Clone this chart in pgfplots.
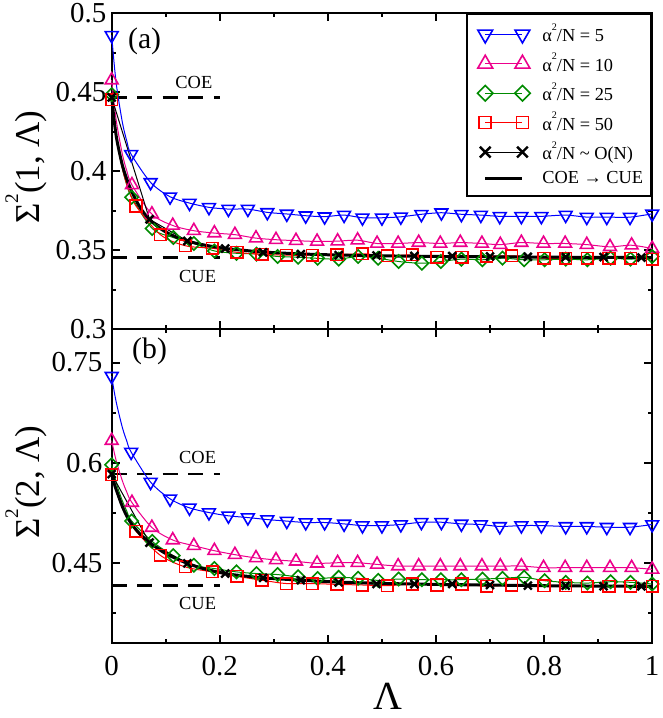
\documentclass[border=0pt]{standalone}
\usepackage{graphicx}
\usepackage{fontspec}
\setmainfont{Liberation Serif}
\usepackage{pgfplots}
\pgfplotsset{compat=1.18}

\definecolor{mygreen}{RGB}{0,139,0}
\newcommand{\sq}{\raisebox{0.62em}{\scalebox{0.55}{2}}}

\pgfplotsset{
  myaxis/.style={
    width=271pt, scale only axis,
    xmin=0, xmax=1,
    xtick={0,0.2,0.4,0.6,0.8,1},
    minor x tick num=1,
    tick align=inside, tick pos=both,
    major tick length=4pt, minor tick length=2pt,
    every tick/.style={black, line width=1pt},
    axis line style={line width=1pt},
    clip=false,
    tick label style={font=\fontsize{14.5}{16}\selectfont},
    /pgf/number format/assume math mode=true,
    xticklabel style={inner sep=0pt, yshift=-6.5pt},
    yticklabel style={inner sep=0pt},
    ylabel style={at={(axis description cs:0,0.5)}, anchor=base, yshift=36pt, xshift=2pt, inner sep=0pt, font=\fontsize{17.5}{20}\selectfont},
  },
  sblue/.style={blue, line width=0.5pt, mark=triangle, mark size=3.7pt, mark options={rotate=180, line width=0.8pt, solid}},
  smag/.style={magenta, line width=0.5pt, mark=triangle, mark size=3.7pt, mark options={line width=0.8pt, solid}},
  sgreen/.style={mygreen, line width=0.5pt, mark=square, mark size=2.35pt, mark options={rotate=45, line width=0.8pt, solid}},
  sred/.style={red, line width=0.5pt, mark=square, mark size=2.9pt, mark options={line width=0.8pt, solid}},
  sx/.style={black, line width=0.5pt, mark=x, mark size=2.8pt, mark options={line width=1.2pt, solid}},
  sline/.style={black, line width=1.5pt},
  sdash/.style={black, line width=1.3pt, dash pattern=on 7.5pt off 5.3pt},
}

\begin{document}
\begin{tikzpicture}
%================ panel (a) =================
\begin{axis}[myaxis, name=top, at={(0,0)}, anchor=north west, height=158.35pt,
  ymin=0.3, ymax=0.5,
  ytick={0.3,0.35,0.4,0.45,0.5}, yticklabels={0.3,0.35,0.4,0.45,0.5},
  minor y tick num=1,
  xticklabels={},
  yticklabel style={xshift=-2.5pt},
  ylabel={Σ\sq(1, Λ)},
  legend cell align=left,
  legend style={at={(1,1)}, anchor=north east, draw=black, line width=1pt, fill=white,
    inner xsep=0pt, inner ysep=4.8pt, row sep=4.2pt, column sep=0pt,
    font=\fontsize{9.2}{11}\selectfont, nodes={inner sep=0pt}},
  legend image code/.code={%
    \path (0pt,0pt) (36.2pt,0pt);
    \draw[#1] plot coordinates {(8.35pt,0pt) (27pt,0pt)};
  },
]
\addplot[sdash, forget plot] coordinates {(0,0.4467) (0.2,0.4467)};
\addplot[sdash, forget plot] coordinates {(0,0.3452) (0.2,0.3452)};

\addplot[sblue, smooth, forget plot, mark indices={1,6,7,8,9,10,11,12,13,14,15,16,17,18,19,20,21,22,23,24,25,26,27,28,29,30,31,32}] coordinates {
(0,0.486) (0.005,0.4665) (0.01,0.4515) (0.02,0.4305) (0.028,0.419)
(0.036,0.4107) (0.072,0.3929) (0.108,0.3838) (0.144,0.3798) (0.18,0.3771) (0.216,0.376) (0.252,0.376) (0.288,0.3739) (0.324,0.3729) (0.359,0.3718) (0.394,0.3712) (0.43,0.3722) (0.464,0.3705) (0.5,0.3705) (0.535,0.3711) (0.573,0.3727) (0.61,0.3737) (0.647,0.3727) (0.683,0.3722) (0.718,0.3714) (0.758,0.3714) (0.795,0.3714) (0.84,0.3722) (0.879,0.3709) (0.916,0.3709) (0.959,0.3709) (1,0.373)};

\addplot[smag, smooth, forget plot, mark indices={1,6,7,8,9,10,11,12,13,14,15,16,17,18,19,20,21,22,23,24,25,26,27,28,29,30,31}] coordinates {
(0,0.4577) (0.005,0.4414) (0.01,0.4287) (0.02,0.4104) (0.028,0.4002)
(0.0375,0.3913) (0.0744,0.3728) (0.113,0.3656) (0.152,0.3623) (0.19,0.3608) (0.228,0.3598) (0.267,0.3576) (0.304,0.3566) (0.341,0.356) (0.38,0.3555) (0.418,0.3557) (0.455,0.3563) (0.491,0.3542) (0.53,0.3542) (0.568,0.3548) (0.608,0.3542) (0.645,0.3548) (0.685,0.3542) (0.719,0.3535) (0.758,0.3548) (0.799,0.3542) (0.839,0.3542) (0.879,0.3535) (0.922,0.3521) (0.962,0.3531) (1,0.351)};

\addplot[sgreen, smooth, forget plot, mark indices={1,5,6,7,8,9,10,11,12,13,14,15,16,17,18,19,20,21,22,23,24,25,26,27,28,29,30}] coordinates {
(0,0.4485) (0.01,0.4197) (0.02,0.4014) (0.028,0.3912)
(0.037,0.3835) (0.075,0.3637) (0.114,0.358) (0.152,0.3542) (0.19,0.3495) (0.231,0.348) (0.268,0.3475) (0.307,0.346) (0.345,0.3455) (0.381,0.3448) (0.42,0.3443) (0.456,0.346) (0.493,0.3449) (0.531,0.3428) (0.574,0.3417) (0.609,0.3428) (0.647,0.3443) (0.686,0.3439) (0.723,0.3449) (0.763,0.3439) (0.801,0.3439) (0.84,0.3443) (0.88,0.3439) (0.923,0.3449) (0.96,0.3443) (1,0.346)};

\addplot[sred, smooth, forget plot, mark indices={1,5,6,7,8,9,10,11,12,13,14,15,16,17,18,19,20,21,22,23,24,25,26}] coordinates {
(0,0.4452) (0.01,0.4185) (0.02,0.4013) (0.03,0.3897)
(0.045,0.378) (0.09,0.3598) (0.136,0.3528) (0.186,0.3512) (0.232,0.3486) (0.278,0.3474) (0.323,0.3468) (0.371,0.3468) (0.417,0.347) (0.464,0.3477) (0.51,0.3464) (0.556,0.347) (0.602,0.3456) (0.648,0.3456) (0.694,0.346) (0.74,0.3464) (0.8,0.3449) (0.84,0.3449) (0.88,0.3449) (0.92,0.3449) (0.96,0.3449) (1,0.3443)};

\addplot[sx, forget plot] coordinates {
(0,0.4467) (0.07,0.3695) (0.14,0.3558) (0.21,0.351) (0.28,0.3486) (0.35,0.3475) (0.42,0.3468) (0.49,0.3466) (0.56,0.3463) (0.63,0.3462) (0.7,0.346) (0.77,0.3458) (0.84,0.3456) (0.91,0.3456) (0.98,0.3453)};

\addplot[sline, smooth, forget plot] coordinates {
(0,0.4467) (0.005,0.431) (0.01,0.419) (0.02,0.4035) (0.03,0.393) (0.04,0.385) (0.05,0.3785) (0.06,0.3734) (0.07,0.3695) (0.085,0.3649) (0.1,0.3615) (0.12,0.3582) (0.14,0.3558) (0.17,0.3533) (0.21,0.3511) (0.25,0.3497) (0.28,0.3488) (0.35,0.3476) (0.42,0.3469) (0.5,0.3464) (0.6,0.346) (0.7,0.3458) (0.8,0.3456) (0.9,0.3454) (1,0.3453)};

\node[font=\fontsize{9.25}{11}\selectfont, inner sep=0pt] at (axis cs:0.152,0.4563) {COE};
\node[font=\fontsize{9.25}{11}\selectfont, inner sep=0pt] at (axis cs:0.159,0.3332) {CUE};
\node[font=\fontsize{14.9}{17}\selectfont, inner sep=0pt, anchor=base] at (axis cs:0.0609,0.4779) {(a)};

\addlegendimage{sblue, mark size=4.3pt}
\addlegendentry{α\sq/N = 5}
\addlegendimage{smag, mark size=4.3pt}
\addlegendentry{α\sq/N = 10}
\addlegendimage{sgreen, mark size=2.75pt}
\addlegendentry{α\sq/N = 25}
\addlegendimage{sred, mark size=3pt}
\addlegendentry{α\sq/N = 50}
\addlegendimage{sx, mark size=3.8pt}
\addlegendentry{α\sq/N \textasciitilde\ O(N)}
\addlegendimage{sline}
\addlegendentry{COE → CUE\hspace*{4pt}}
\end{axis}

%================ panel (b) =================
\begin{axis}[myaxis, at={(top.south west)}, anchor=north west, height=157.5pt,
  ymin=0.33, ymax=0.8,
  ytick={0.45,0.6,0.75}, yticklabels={0.45,0.6,0.75},
  minor ytick={0.375,0.525,0.675},
  xticklabels={0,0.2,0.4,0.6,0.8,1},
  yticklabel style={xshift=-4.5pt},
  ylabel={Σ\sq(2, Λ)},
  xlabel={Λ},
  xlabel style={at={(axis description cs:0.5,0)}, anchor=base, yshift=-33pt, xshift=3pt, inner sep=0pt, font=\fontsize{20}{24}\selectfont},
]
\addplot[sdash] coordinates {(0,0.5831) (0.2,0.5831)};
\addplot[sdash] coordinates {(0,0.4164) (0.2,0.4164)};

\addplot[sblue, smooth, mark indices={1,6,7,8,9,10,11,12,13,14,15,16,17,18,19,20,21,22,23,24,25,26,27,28,29,30,31,32}] coordinates {
(0,0.7295) (0.005,0.705) (0.01,0.6848) (0.02,0.652) (0.028,0.6323)
(0.036,0.616) (0.072,0.571) (0.108,0.546) (0.144,0.5325) (0.18,0.5255) (0.216,0.5206) (0.252,0.518) (0.288,0.515) (0.324,0.5127) (0.359,0.5106) (0.394,0.5106) (0.43,0.5085) (0.464,0.506) (0.5,0.506) (0.535,0.5076) (0.573,0.511) (0.61,0.511) (0.647,0.5085) (0.683,0.5076) (0.718,0.5047) (0.758,0.506) (0.795,0.506) (0.84,0.5047) (0.879,0.5047) (0.916,0.5036) (0.959,0.5036) (1,0.5076)};

\addplot[smag, smooth, mark indices={1,6,7,8,9,10,11,12,13,14,15,16,17,18,19,20,21,22,23,24,25,26,27,28,29,30,31}] coordinates {
(0,0.6332) (0.005,0.6143) (0.01,0.5982) (0.02,0.5724) (0.028,0.556)
(0.0375,0.5404) (0.0744,0.5031) (0.113,0.4844) (0.152,0.4759) (0.19,0.4684) (0.228,0.4625) (0.267,0.4576) (0.304,0.4546) (0.341,0.4525) (0.38,0.4495) (0.418,0.4504) (0.455,0.4504) (0.491,0.4479) (0.53,0.4454) (0.568,0.4454) (0.608,0.4454) (0.645,0.4454) (0.685,0.4454) (0.719,0.4454) (0.758,0.4454) (0.799,0.443) (0.839,0.443) (0.879,0.443) (0.922,0.443) (0.962,0.443) (1,0.4405)};

\addplot[sgreen, smooth, mark indices={1,5,6,7,8,9,10,11,12,13,14,15,16,17,18,19,20,21,22,23,24,25,26,27,28,29,30}] coordinates {
(0,0.597) (0.01,0.5659) (0.02,0.5425) (0.028,0.5275)
(0.037,0.5128) (0.075,0.4823) (0.114,0.461) (0.152,0.4466) (0.19,0.4417) (0.231,0.4367) (0.268,0.4342) (0.307,0.4327) (0.345,0.4293) (0.381,0.4268) (0.42,0.4286) (0.456,0.4271) (0.493,0.424) (0.531,0.426) (0.574,0.425) (0.609,0.425) (0.647,0.425) (0.686,0.426) (0.723,0.4271) (0.763,0.4286) (0.801,0.4235) (0.84,0.4211) (0.88,0.42) (0.923,0.422) (0.96,0.4211) (1,0.4186)};

\addplot[sred, smooth, mark indices={1,5,6,7,8,9,10,11,12,13,14,15,16,17,18,19,20,21,22,23,24,25,26}] coordinates {
(0,0.582) (0.01,0.5544) (0.02,0.5332) (0.03,0.5166)
(0.045,0.4975) (0.09,0.4615) (0.136,0.4442) (0.186,0.4367) (0.232,0.43) (0.278,0.4243) (0.323,0.4193) (0.371,0.4193) (0.417,0.418) (0.464,0.4171) (0.51,0.4161) (0.556,0.4186) (0.602,0.4171) (0.648,0.4186) (0.694,0.4152) (0.74,0.4171) (0.8,0.4161) (0.84,0.4161) (0.88,0.4152) (0.92,0.4152) (0.96,0.4152) (1,0.4152)};

\addplot[sx] coordinates {
(0,0.583) (0.07,0.4805) (0.14,0.4495) (0.21,0.4342) (0.28,0.4278) (0.35,0.4243) (0.42,0.421) (0.49,0.4186) (0.56,0.4186) (0.63,0.4186) (0.7,0.4171) (0.77,0.4161) (0.84,0.4161) (0.91,0.4152) (0.98,0.4152)};

\addplot[sline, smooth] coordinates {
(0,0.583) (0.005,0.568) (0.01,0.556) (0.02,0.534) (0.03,0.517) (0.04,0.505) (0.05,0.4955) (0.06,0.4875) (0.07,0.481) (0.09,0.469) (0.11,0.46) (0.14,0.4495) (0.17,0.4415) (0.21,0.4342) (0.25,0.4302) (0.28,0.4278) (0.35,0.4243) (0.42,0.4215) (0.5,0.4195) (0.6,0.418) (0.7,0.417) (0.8,0.416) (0.9,0.4155) (1,0.415)};

\node[font=\fontsize{9.25}{11}\selectfont, inner sep=0pt] at (axis cs:0.159,0.6072) {COE};
\node[font=\fontsize{9.25}{11}\selectfont, inner sep=0pt] at (axis cs:0.159,0.3888) {CUE};
\node[font=\fontsize{14.9}{17}\selectfont, inner sep=0pt, anchor=base] at (axis cs:0.0701,0.7553) {(b)};
\end{axis}

\pgfresetboundingbox
\path[use as bounding box] (-56pt,6.65pt) rectangle (276pt,-353.35pt);
\end{tikzpicture}
\end{document}
